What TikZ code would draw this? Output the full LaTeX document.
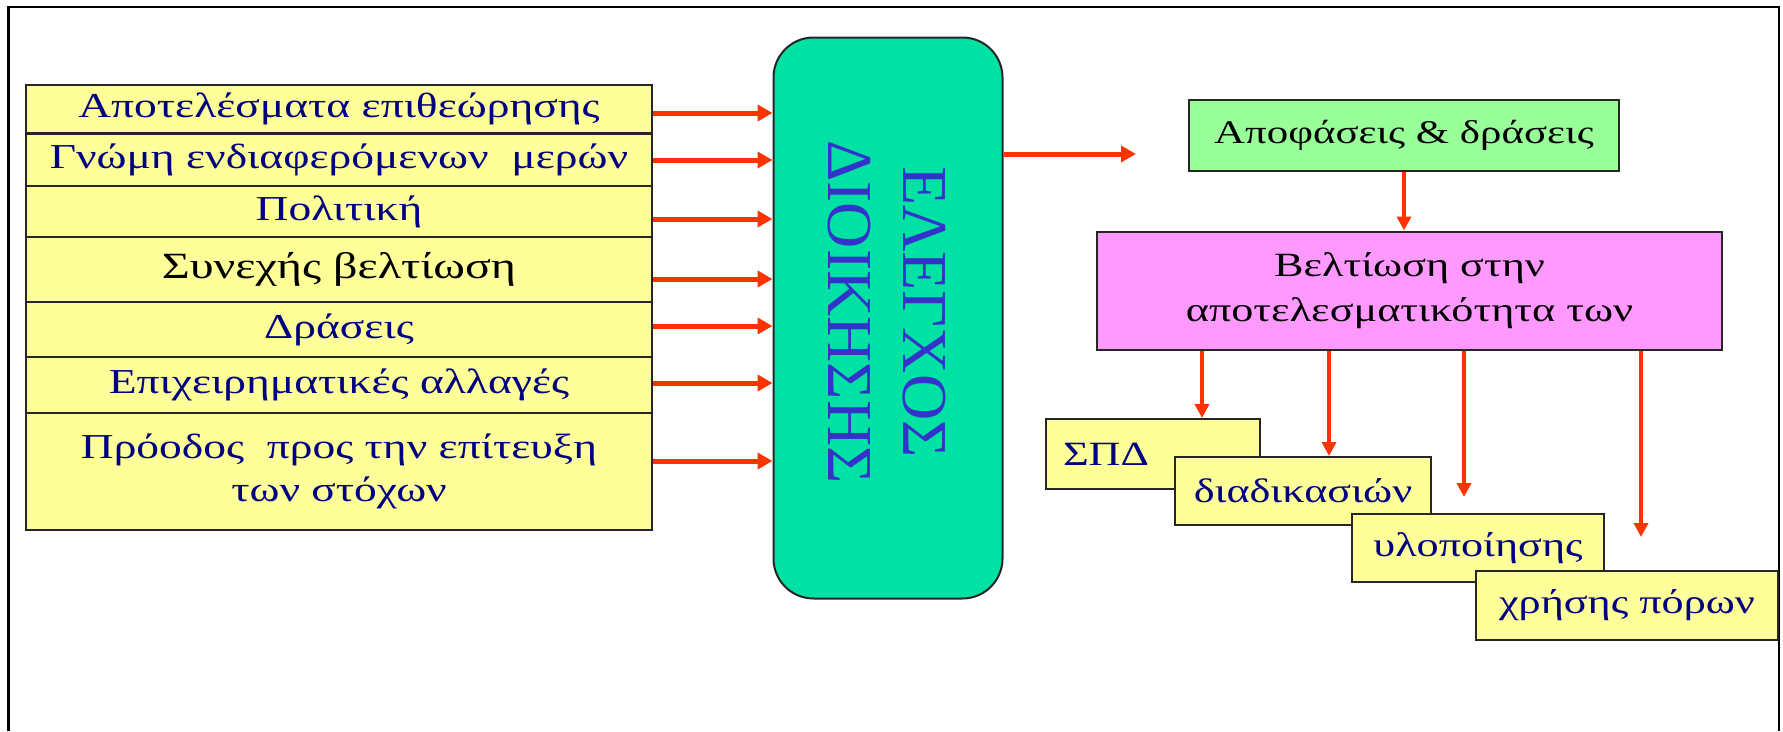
\documentclass[tikz,border=0pt]{standalone}
\usepackage{fontspec}
\setmainfont{Liberation Serif}[FakeStretch=1.3]
\newfontfamily\plainserif{Liberation Serif}
\usepackage{xcolor}
\usetikzlibrary{arrows.meta,positioning,calc}

\definecolor{rowyellow}{RGB}{255,255,153}
\definecolor{ctrlgreen}{RGB}{0,226,164}
\definecolor{decgreen}{RGB}{153,255,153}
\definecolor{imppink}{RGB}{255,153,255}
\definecolor{arrred}{RGB}{255,51,0}
\definecolor{ctrlblue}{RGB}{51,51,204}
\definecolor{txtnavy}{RGB}{0,0,128}

\begin{document}
\begin{tikzpicture}[x=1pt, y=-1pt,
    box/.style={draw=black!85, line width=2pt, inner sep=0pt},
    rowbox/.style={box, fill=rowyellow, minimum width=626pt, text=txtnavy, align=center, font=\fontsize{35}{43}\selectfont},
    stepbox/.style={box, fill=rowyellow, text=txtnavy, font=\fontsize{34}{40}\selectfont},
    inarrow/.style={arrred, line width=5pt, -{Triangle[length=15pt,width=16pt]}},
    downarrow/.style={arrred, line width=4pt, -{Triangle[length=14pt,width=14pt]}}]
    \useasboundingbox (0,0) rectangle (1783,731);
    % frame
    \draw[line width=2.5pt] (8.5,731) -- (8.5,7) -- (1779,7) -- (1779,731);
    % inputs
    \node[rowbox, minimum height=48pt] (r1) at (339,109) {Αποτελέσματα επιθεώρησης};
    \node[rowbox, minimum height=52pt] (r2) at (339,159.5) {Γνώμη ενδιαφερόμενων~ μερών};
    \node[rowbox, minimum height=51pt] (r3) at (339,211.5) {Πολιτική};
    \node[rowbox, minimum height=65pt, text=black, font=\fontsize{37}{43}\selectfont] (r4) at (339,269.5) {Συνεχής βελτίωση};
    \node[rowbox, minimum height=55pt] (r5) at (339,329.5) {Δράσεις};
    \node[rowbox, minimum height=56pt] (r6) at (339,385) {Επιχειρηματικές αλλαγές};
    \node[rowbox, minimum height=117pt] (r7) at (339,471.5) {Πρόοδος~ προς την επίτευξη\\των στόχων};
    % control
    \node[box, fill=ctrlgreen, rounded corners=40pt, minimum width=229pt, minimum height=561pt] (ctrl) at (888,318) {};
    \node[rotate=-90, align=center, text=ctrlblue, font=\plainserif\fontsize{64}{75}\selectfont] (ctrllabel) at (887,312) {ΕΛΕΓΧΟΣ\\ΔΙΟΙΚΗΣΗΣ};
    % outputs
    \node[box, fill=decgreen, minimum width=430pt, minimum height=71pt, font=\fontsize{33}{40}\selectfont] (dec) at (1404,135.5) {Αποφάσεις \& δράσεις};
    \node[box, fill=imppink, minimum width=625pt, minimum height=118pt, align=center, font=\fontsize{34}{45}\selectfont] (imp) at (1409.5,290.5) {Βελτίωση στην\\αποτελεσματικότητα των};
    \node[stepbox, minimum height=70pt, text width=180pt, inner xsep=17pt, align=left] (spd) at (1153,454) {ΣΠΔ};
    \node[stepbox, minimum width=256pt, minimum height=68pt] (dia) at (1303,491) {διαδικασιών};
    \node[stepbox, minimum width=252pt, minimum height=68pt] (ylo) at (1478,548) {υλοποίησης};
    \node[stepbox, minimum width=302pt, minimum height=69pt] (xri) at (1627,605.5) {χρήσης πόρων};
    % arrows
    \foreach \r/\s in {1/-4, 2/-0.5, 3/-7.5, 4/-9.5, 5/3.5, 6/2, 7/10.5}
        \draw[inarrow] ([yshift=\s pt]r\r.east) -- ([yshift=\s pt]r\r.east -| ctrl.west);
    \coordinate (decin) at (1136,154);
    \draw[inarrow] (ctrl.east |- decin) -- (decin);
    \draw[downarrow] (dec.south) -- (dec.south |- imp.north);
    \coordinate (a1) at (1202,0);
    \coordinate (a2) at (1329,0);
    \coordinate (t3) at (1464,497);
    \coordinate (t4) at (1641,537);
    \draw[downarrow] (imp.south -| a1) -- (spd.north -| a1);
    \draw[downarrow] (imp.south -| a2) -- (dia.north -| a2);
    \draw[downarrow] (imp.south -| t3) -- (t3);
    \draw[downarrow] (imp.south -| t4) -- (t4);
\end{tikzpicture}
\end{document}
